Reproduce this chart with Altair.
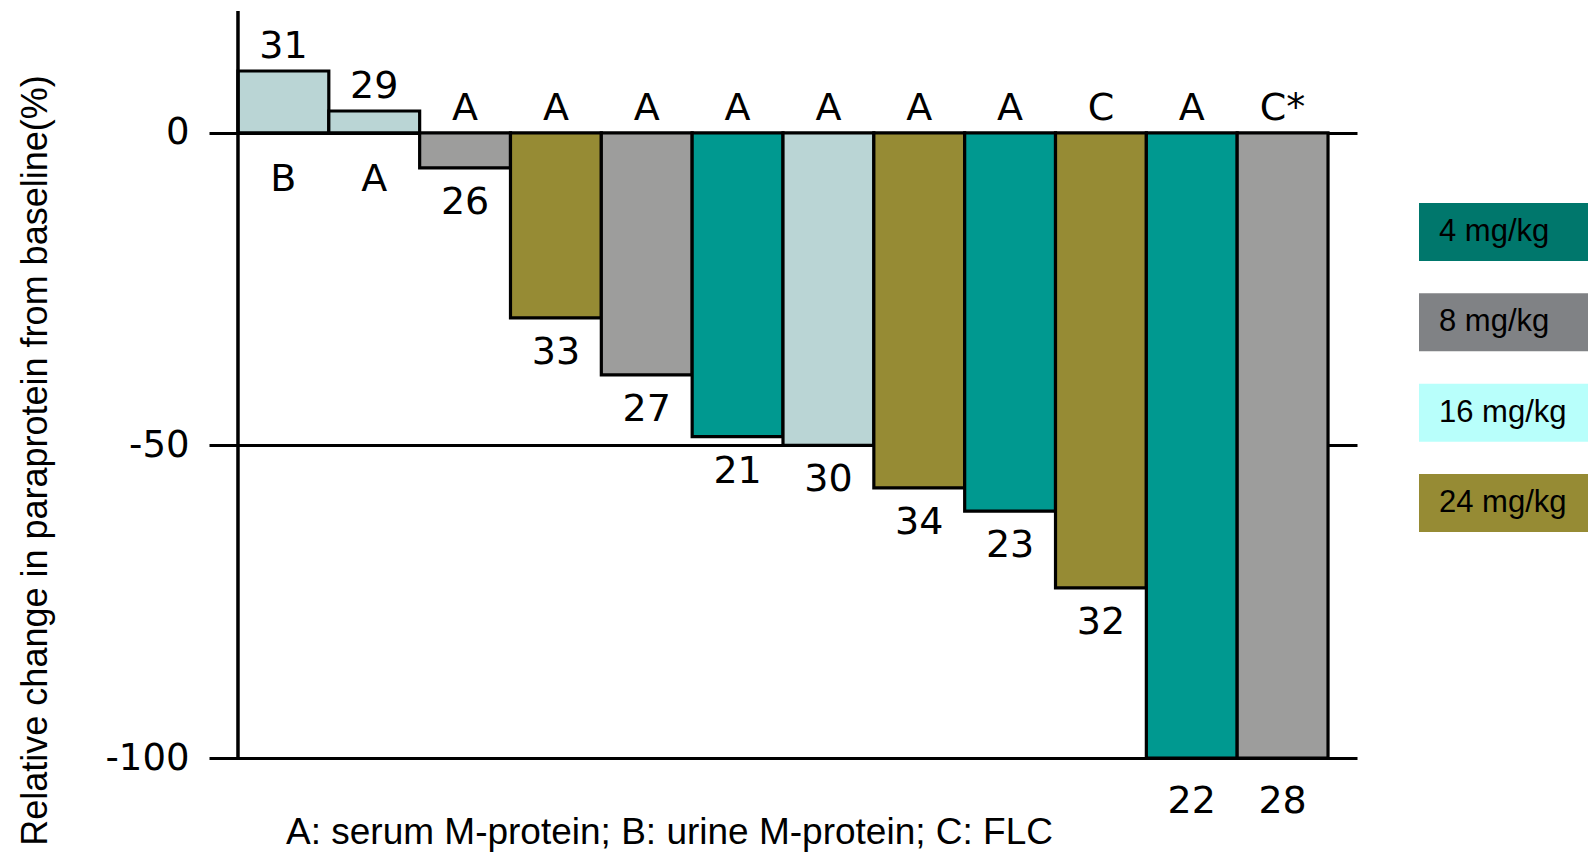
import altair as alt
import pandas as pd

# ---- data ----
patients = ["31", "29", "26", "33", "27", "21", "30", "34", "23", "32", "22", "28"]
assays = ["B", "A", "A", "A", "A", "A", "A", "A", "A", "C", "A", "C*"]
doses = ["16 mg/kg", "16 mg/kg", "8 mg/kg", "24 mg/kg", "8 mg/kg", "4 mg/kg",
         "16 mg/kg", "24 mg/kg", "4 mg/kg", "24 mg/kg", "4 mg/kg", "8 mg/kg"]
changes = [9.9, 3.5, -5.6, -29.6, -38.7, -48.6, -50.0, -56.8, -60.5, -72.8, -100.0, -100.0]

dose_names = ["4 mg/kg", "8 mg/kg", "16 mg/kg", "24 mg/kg"]
bar_colors = ["#009990", "#9d9d9c", "#bad5d5", "#968b34"]
legend_colors = ["#00776c", "#808285", "#b8fffb", "#968b34"]

y_ticks = [0, -50, -100]
y_top = 19.5
y_bottom = -100
x_pad = 0.319

y_title = "Relative change in paraprotein from baseline(%)"
footnote = "A: serum M-protein; B: urine M-protein; C: FLC"

# ---- table ----
n = len(patients)
df = pd.DataFrame({
    "idx": list(range(n)),
    "patient": patients,
    "assay": assays,
    "dose": doses,
    "value": changes,
})
df["idx_end"] = df["idx"] + 1
df["mid"] = df["idx"] + 0.5
df["zero"] = 0.0
df["top_y"] = df["value"].clip(lower=0)
df["bottom_y"] = df["value"].clip(upper=0)
df["top_label"] = [p if v > 0 else a for p, a, v in zip(patients, assays, changes)]
df["bottom_label"] = [a if v > 0 else p for p, a, v in zip(patients, assays, changes)]

xscale = alt.Scale(domain=[-x_pad, n + x_pad], nice=False, zero=False)
yscale = alt.Scale(domain=[y_bottom, y_top], nice=False, zero=False)

xaxis = alt.Axis(labels=False, ticks=False, domain=False, grid=False,
                 title=footnote, titleFont="Liberation Sans", titleFontSize=37,
                 titleFontWeight="normal", titleColor="black",
                 titleX=460, titleY=85, titleAlign="center", titleBaseline="alphabetic")
yaxis = alt.Axis(values=y_ticks, grid=True, gridColor="black", gridWidth=3.2, gridOpacity=1,
                 domain=False, ticks=False, labelFont="DejaVu Sans", labelFontSize=37,
                 labelColor="black", labelPadding=20, labelBaseline="middle",
                 labelExpr="replace(datum.label, '\u2212', '-')",
                 title=y_title, titleFont="Liberation Sans", titleFontSize=36,
                 titleFontWeight="normal", titleColor="black", titleAngle=-90,
                 titleX=-174, titleY=449, titleAlign="center", titleBaseline="middle")

base = alt.Chart(df)

bars = base.mark_rect(stroke="black", strokeWidth=3.2).encode(
    x=alt.X("idx:Q", scale=xscale, axis=xaxis),
    x2="idx_end:Q",
    y=alt.Y("value:Q", scale=yscale, axis=yaxis),
    y2="zero:Q",
    color=alt.Color("dose:N", scale=alt.Scale(domain=dose_names, range=bar_colors), legend=None),
)

axis_df = pd.DataFrame({"x": [0], "top": [y_top], "bottom": [y_bottom]})
vline = alt.Chart(axis_df).mark_rule(color="black", strokeWidth=3.5).encode(
    x=alt.X("x:Q", scale=xscale),
    y=alt.Y("top:Q", scale=yscale),
    y2="bottom:Q",
)

label_font = dict(font="DejaVu Sans", fontSize=38, color="black", align="center")

top_text = base.mark_text(baseline="alphabetic", dy=-13, **label_font).encode(
    x=alt.X("mid:Q", scale=xscale), y=alt.Y("top_y:Q", scale=yscale), text="top_label:N")

bottom_pos = base.transform_filter("datum.value > 0").mark_text(
    baseline="top", dy=28, **label_font).encode(
    x=alt.X("mid:Q", scale=xscale), y=alt.Y("bottom_y:Q", scale=yscale), text="bottom_label:N")

bottom_neg = base.transform_filter("datum.value <= 0 && datum.value > -100").mark_text(
    baseline="top", dy=16, **label_font).encode(
    x=alt.X("mid:Q", scale=xscale), y=alt.Y("bottom_y:Q", scale=yscale), text="bottom_label:N")

bottom_full = base.transform_filter("datum.value <= -100").mark_text(
    baseline="top", dy=25, **label_font).encode(
    x=alt.X("mid:Q", scale=xscale), y=alt.Y("bottom_y:Q", scale=yscale), text="bottom_label:N")

main = alt.layer(bars, vline, top_text, bottom_pos, bottom_neg, bottom_full)

# ---- legend boxes ----
leg_df = pd.DataFrame({"dose": dose_names})
leg_y = alt.Y("dose:N", scale=alt.Scale(domain=dose_names, range=[192, 521],
                                        paddingInner=0.358, paddingOuter=0), axis=None)
leg_rect = alt.Chart(leg_df).mark_rect().encode(
    x=alt.value(1210), x2=alt.value(1390), y=leg_y,
    color=alt.Color("dose:N", scale=alt.Scale(domain=dose_names, range=legend_colors), legend=None),
)
leg_text = alt.Chart(leg_df).mark_text(align="left", baseline="middle", font="Liberation Sans",
                                       fontSize=31, color="black").encode(
    x=alt.value(1230), y=leg_y, text="dose:N")
legend = alt.layer(leg_rect, leg_text)

chart = alt.layer(main, legend).resolve_scale(
    y="independent", color="independent", x="independent"
).properties(
    width=1148, height=747,
    padding={"left": 201, "top": 3, "right": 231, "bottom": 94},
    autosize=alt.AutoSizeParams(type="none"),
    background="white",
).configure_view(stroke=None, strokeWidth=0)

chart.save("out.html", embed_options={"renderer": "svg", "actions": False})
